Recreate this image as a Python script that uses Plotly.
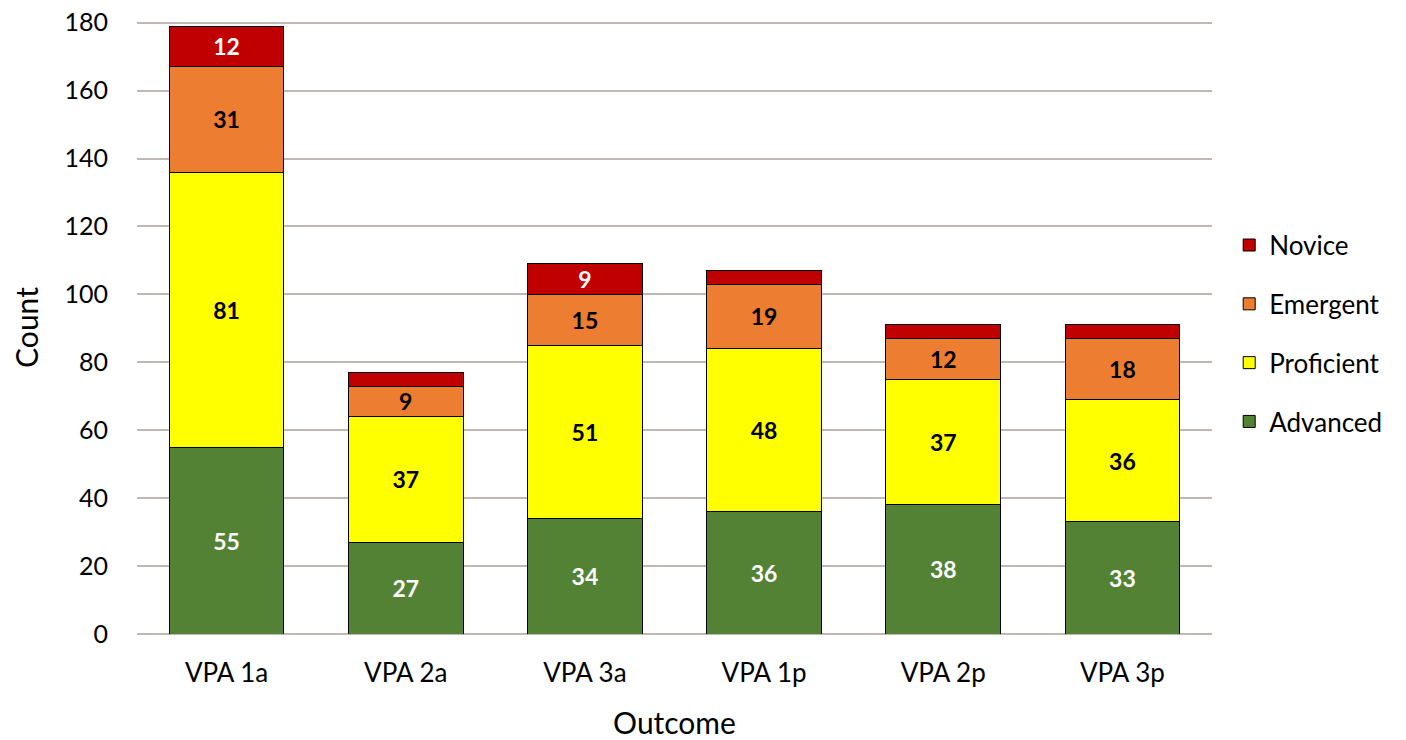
import plotly.graph_objects as go

outcomes = ["VPA 1a", "VPA 2a", "VPA 3a", "VPA 1p", "VPA 2p", "VPA 3p"]
advanced = [55, 27, 34, 36, 38, 33]
proficient = [81, 37, 51, 48, 37, 36]
emergent = [31, 9, 15, 19, 12, 18]
novice = [12, 4, 9, 4, 4, 4]
# small novice segments carry no label in the original
novice_text = ["12", "", "9", "", "", ""]

FONT = "Lato, Calibri, Arial, sans-serif"

series = [
    ("Advanced", advanced, [str(v) for v in advanced], "#548235", "white", 4),
    ("Proficient", proficient, [str(v) for v in proficient], "#FFFF00", "black", 3),
    ("Emergent", emergent, [str(v) for v in emergent], "#ED7D31", "black", 2),
    ("Novice", novice, novice_text, "#C00000", "white", 1),
]

fig = go.Figure()
for name, vals, txt, col, tcol, rank in series:
    fig.add_trace(go.Bar(
        x=outcomes, y=vals, name=name, text=txt,
        textposition="inside", insidetextanchor="middle", textangle=0,
        textfont=dict(family=FONT, size=23, color=tcol, weight="bold"),
        marker=dict(color=col, line=dict(color="black", width=1)),
        legendgroup=name, legendrank=rank,
    ))

# page body has an 8px margin, so the figure is shrunk to fit the window
# range goes a touch past 180 so plotly still draws the top gridline
fig.update_layout(
    barmode="stack", bargap=0.36,
    width=1398, height=732,
    margin=dict(l=129, r=194, t=13, b=106),
    plot_bgcolor="white", paper_bgcolor="white",
    font=dict(family=FONT, size=25, color="black"),
    uniformtext=dict(minsize=23, mode="show"),
    legend=dict(x=1.016, xanchor="left", y=0.49, yanchor="middle",
                traceorder="grouped", tracegroupgap=22,
                font=dict(size=26)),
)
fig.update_yaxes(range=[0, 180.5], tickvals=list(range(0, 181, 20)),
                 showgrid=True, automargin=False,
                 gridcolor="#BFB9B3", gridwidth=1.5,
                 zeroline=True, zerolinecolor="#BFB9B3", zerolinewidth=1.5,
                 ticks="", ticklabelstandoff=28, ticklabeloverflow="allow",
                 title=dict(text="Count", standoff=38))
fig.update_xaxes(showline=False, ticks="", ticklabelstandoff=21, automargin=False,
                 tickfont=dict(size=26),
                 title=dict(text="Outcome", standoff=26))

fig.write_html("out.html")
